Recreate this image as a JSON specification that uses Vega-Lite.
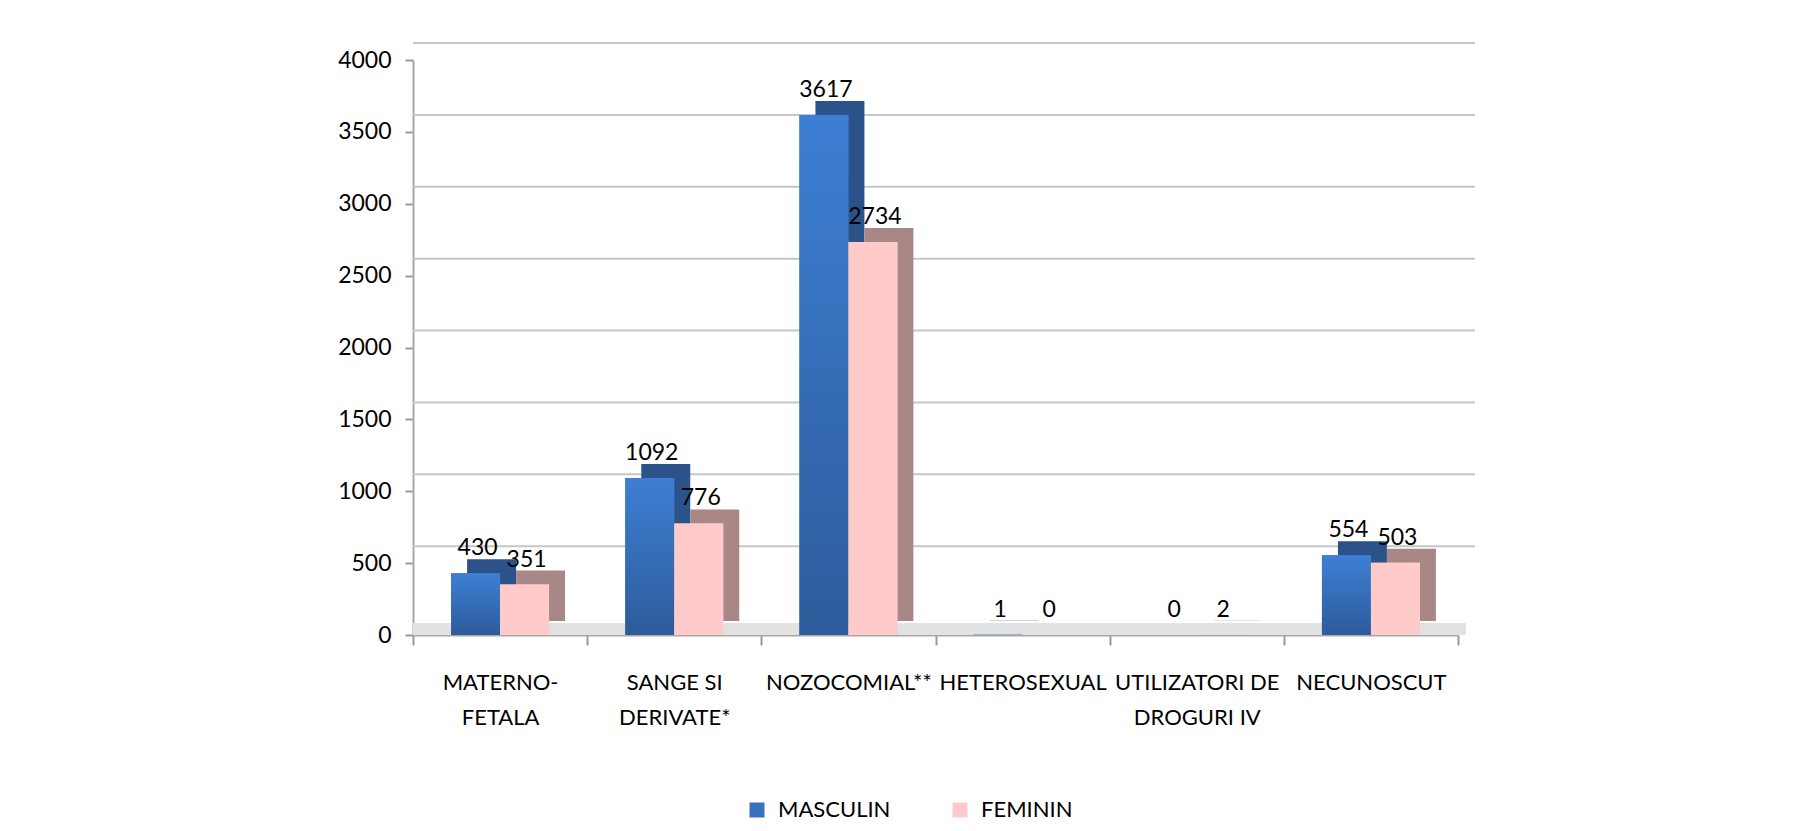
{
  "$schema": "https://vega.github.io/schema/vega-lite/v6.json",
  "width": 1045,
  "height": 575,
  "autosize": {"type": "none"},
  "padding": {"left": 413, "top": 60, "right": 336, "bottom": 196},
  "background": "white",
  "config": {"view": {"stroke": null}, "font": "Lato"},
  "datasets": {
    "grid": [{"v": 500}, {"v": 1000}, {"v": 1500}, {"v": 2000}, {"v": 2500}, {"v": 3000}, {"v": 3500}, {"v": 4000}]
  },
  "data": {
    "values": [
      {"categorie": "MATERNO-FETALA", "sex": "MASCULIN", "cazuri": 430},
      {"categorie": "MATERNO-FETALA", "sex": "FEMININ", "cazuri": 351},
      {"categorie": "SANGE SI DERIVATE*", "sex": "MASCULIN", "cazuri": 1092},
      {"categorie": "SANGE SI DERIVATE*", "sex": "FEMININ", "cazuri": 776},
      {"categorie": "NOZOCOMIAL**", "sex": "MASCULIN", "cazuri": 3617},
      {"categorie": "NOZOCOMIAL**", "sex": "FEMININ", "cazuri": 2734},
      {"categorie": "HETEROSEXUAL", "sex": "MASCULIN", "cazuri": 1},
      {"categorie": "HETEROSEXUAL", "sex": "FEMININ", "cazuri": 0},
      {"categorie": "UTILIZATORI DE DROGURI IV", "sex": "MASCULIN", "cazuri": 0},
      {"categorie": "UTILIZATORI DE DROGURI IV", "sex": "FEMININ", "cazuri": 2},
      {"categorie": "NECUNOSCUT", "sex": "MASCULIN", "cazuri": 554},
      {"categorie": "NECUNOSCUT", "sex": "FEMININ", "cazuri": 503}
    ]
  },
  "resolve": {"scale": {"xOffset": "independent"}},
  "layer": [
    {
      "data": {"name": "grid"},
      "mark": {"type": "rule", "color": "#c6c6c6", "strokeWidth": 2, "xOffset": 17, "yOffset": -17},
      "encoding": {
        "y": {"field": "v", "type": "quantitative", "title": null, "scale": {"domain": [0, 4000], "nice": false}}
      }
    },
    {
      "mark": {"type": "rule", "color": "#e2e2e2", "strokeWidth": 11, "xOffset": 8, "yOffset": -6},
      "encoding": {
        "y": {"datum": 0, "type": "quantitative", "title": null}
      }
    },
    {
      "mark": {"type": "bar", "yOffset": -14},
      "encoding": {
        "x": {"field": "categorie", "type": "nominal", "title": null, "sort": null, "scale": {"paddingInner": 0, "paddingOuter": 0}},
        "xOffset": {"field": "sex", "type": "nominal", "sort": ["MASCULIN", "FEMININ"], "scale": {"paddingInner": 0, "paddingOuter": 0.778, "align": 0.71}},
        "y": {"field": "cazuri", "type": "quantitative", "title": null},
        "color": {"condition": {"test": "datum.sex === 'MASCULIN'", "value": "#2b5289"}, "value": "#aa8787"}
      }
    },
    {
      "mark": {"type": "bar"},
      "encoding": {
        "x": {
          "field": "categorie", "type": "nominal", "title": null, "sort": null,
          "scale": {"paddingInner": 0, "paddingOuter": 0},
          "axis": {
            "tickBand": "extent",
            "labelAngle": 0,
            "labelAlign": "center",
            "labelFontSize": 22,
            "labelColor": "#000000",
            "labelPadding": 27,
            "labelLineHeight": 35,
            "labelBaseline": "top",
            "tickSize": 10,
            "tickColor": "#9a9a9a",
            "tickWidth": 2,
            "domainColor": "#a8a8a8",
            "domainWidth": 2,
            "labelExpr": "datum.label == 'MATERNO-FETALA' ? ['MATERNO-', 'FETALA'] : datum.label == 'SANGE SI DERIVATE*' ? ['SANGE SI', 'DERIVATE*'] : datum.label == 'UTILIZATORI DE DROGURI IV' ? ['UTILIZATORI DE', 'DROGURI IV'] : datum.label"
          }
        },
        "xOffset": {"field": "sex", "type": "nominal", "sort": ["MASCULIN", "FEMININ"], "scale": {"paddingInner": 0, "paddingOuter": 0.778}},
        "y": {
          "field": "cazuri", "type": "quantitative", "title": null,
          "axis": {
            "values": [0, 500, 1000, 1500, 2000, 2500, 3000, 3500, 4000],
            "format": "d",
            "grid": false,
            "labelFontSize": 23,
            "labelColor": "#000000",
            "labelPadding": 14,
            "tickSize": 8,
            "tickColor": "#9a9a9a",
            "tickWidth": 2,
            "domainColor": "#a8a8a8",
            "domainWidth": 2
          }
        },
        "color": {
          "field": "sex", "type": "nominal",
          "scale": {"domain": ["MASCULIN", "FEMININ"], "range": ["#3a71bd", "#ffcaca"]},
          "legend": {
            "title": null,
            "orient": "none",
            "legendX": 333,
            "legendY": 739,
            "direction": "horizontal",
            "symbolType": "square",
            "symbolSize": 225,
            "symbolStrokeWidth": 0,
            "labelFontSize": 22,
            "labelColor": "#000000",
            "labelOffset": 10,
            "columnPadding": 58
          }
        }
      }
    },
    {
      "mark": {"type": "bar"},
      "encoding": {
        "x": {"field": "categorie", "type": "nominal", "title": null, "sort": null},
        "xOffset": {"field": "sex", "type": "nominal", "sort": ["MASCULIN", "FEMININ"], "scale": {"paddingInner": 0, "paddingOuter": 0.778}},
        "y": {"field": "cazuri", "type": "quantitative", "title": null},
        "color": {
          "condition": {
            "test": "datum.sex === 'MASCULIN'",
            "value": {"gradient": "linear", "x1": 0, "y1": 0, "x2": 0, "y2": 1, "stops": [{"offset": 0, "color": "#3d7fd4"}, {"offset": 1, "color": "#2d5b9b"}]}
          },
          "value": "#ffcaca"
        }
      }
    },
    {
      "mark": {"type": "text", "dy": -18, "dx": 2, "baseline": "alphabetic", "fontSize": 23, "color": "#000000"},
      "encoding": {
        "x": {"field": "categorie", "type": "nominal", "title": null, "sort": null},
        "xOffset": {"field": "sex", "type": "nominal", "sort": ["MASCULIN", "FEMININ"], "scale": {"type": "band", "paddingInner": 0, "paddingOuter": 0.778}},
        "y": {"field": "cazuri", "type": "quantitative", "title": null},
        "text": {"field": "cazuri", "type": "quantitative"}
      }
    }
  ]
}
